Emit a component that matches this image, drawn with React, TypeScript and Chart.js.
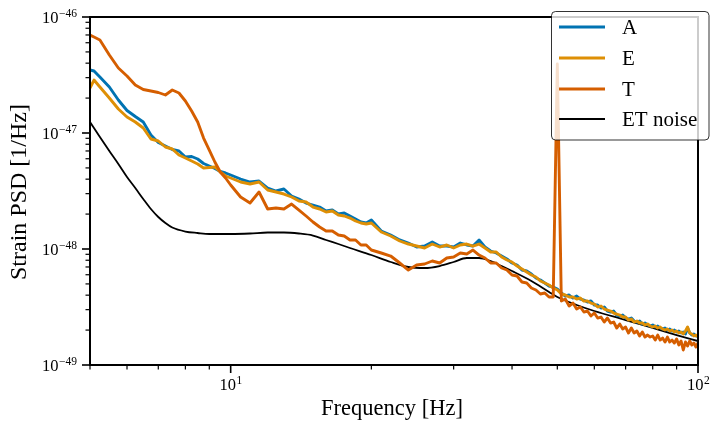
import React, { useEffect, useRef } from "react";
import { Chart, registerables } from "chart.js";

Chart.register(...registerables);

// PSD values are given in units of 1e-48 1/Hz
const UNIT = 1e-48;

const FREQ = [
  5, 5.1, 5.25, 5.5, 5.75, 6, 6.25, 6.5, 6.75, 7, 7.25, 7.5, 7.75, 8, 8.25, 8.5, 8.75, 9, 9.25, 9.5, 9.75, 10,
  10.5, 11, 11.5, 12, 12.5, 13, 13.5, 14, 14.5, 15, 15.5, 16, 16.5, 17, 17.5, 18, 18.5, 19, 19.5, 20,
  21, 22, 23, 24, 25, 26, 27, 28, 29, 30, 31, 32, 33, 34, 35, 36, 37, 38, 39, 40,
  41, 42, 43, 44, 45, 46, 47, 48, 49, 50,
  51, 52, 53, 54, 55, 56, 57, 58, 59, 60, 61, 62, 63, 64, 65, 66, 67, 68, 69, 70,
  71, 72, 73, 74, 75, 76, 77, 78, 79, 80, 81, 82, 83, 84, 85, 86, 87, 88, 89, 90,
  91, 92, 93, 94, 95, 96, 97, 98, 99, 100,
];

const PSD_A = [
  34.91, 34.22, 30.38, 24.91, 19.25, 15.62, 13.87, 12.44, 9.609, 8.28, 7.724, 7.205, 6.994, 6.209, 6.271, 5.967, 5.457, 5.193, 4.942, 4.657, 4.52, 4.344,
  4.011, 3.779, 3.855, 3.355, 3.161, 3.289, 2.862, 2.697, 2.491, 2.394, 2.301, 2.126, 2.168, 2.003, 2.043, 1.925, 1.813, 1.709, 1.675, 1.778,
  1.429, 1.32, 1.196, 1.126, 1.04, 1.061, 1.149, 1.061, 1.061, 1.04, 1.126, 1.083, 1.061, 1.196, 1.04, 0.9609, 0.9235, 0.8701, 0.8198, 0.7572,
  0.7277, 0.659, 0.646, 0.6087, 0.5622, 0.5403, 0.5091, 0.4797, 0.4703, 0.452,
  0.4175, 0.3932, 0.4011, 0.3779, 0.3932, 0.3705, 0.3632, 0.3491, 0.3561, 0.3289, 0.3289, 0.3099, 0.3161, 0.292, 0.2862, 0.292, 0.2697, 0.2644, 0.2697, 0.2541,
  0.2491, 0.2541, 0.2394, 0.2347, 0.2394, 0.2256, 0.2301, 0.2212, 0.2168, 0.2212, 0.2126, 0.2168, 0.2084, 0.2043, 0.2084, 0.2003, 0.2043, 0.1963, 0.2003, 0.1925,
  0.1963, 0.1887, 0.1925, 0.185, 0.2084, 0.1887, 0.1813, 0.185, 0.1778, 0.1813,
];

const PSD_E = [
  24.42, 28.62, 24.91, 20.03, 16.1, 13.74, 12.44, 11.04, 8.875, 8.53, 7.572, 7.277, 6.46, 6.087, 5.735, 5.403, 4.991, 5.04, 5.091, 4.611, 4.259, 4.093,
  3.779, 3.632, 3.779, 3.224, 3.099, 2.978, 2.806, 2.592, 2.541, 2.301, 2.212, 2.084, 2.126, 1.963, 1.925, 1.85, 1.743, 1.675, 1.642, 1.675,
  1.401, 1.294, 1.172, 1.104, 1.061, 1.02, 1.104, 1.04, 1.083, 1.02, 1.083, 1.104, 1.061, 1.104, 1.02, 0.942, 0.942, 0.853, 0.8037, 0.7724,
  0.7134, 0.6722, 0.6333, 0.5967, 0.5735, 0.5297, 0.5091, 0.4893, 0.4611, 0.4431,
  0.4093, 0.4011, 0.3855, 0.3855, 0.3705, 0.3779, 0.3561, 0.3561, 0.3422, 0.3355, 0.3161, 0.3224, 0.3038, 0.2978, 0.292, 0.2806, 0.2751, 0.2697, 0.2592, 0.2592,
  0.2442, 0.2491, 0.2347, 0.2394, 0.2301, 0.2301, 0.2212, 0.2256, 0.2168, 0.2126, 0.2168, 0.2084, 0.2126, 0.2043, 0.2003, 0.2043, 0.1963, 0.2003, 0.1925, 0.1963,
  0.1887, 0.1925, 0.185, 0.1963, 0.2126, 0.1887, 0.185, 0.1778, 0.1813, 0.1743,
];

const PSD_T = [
  69.94, 67.22, 63.33, 47.03, 36.32, 30.99, 25.92, 23.7, 23.01, 22.34, 21.26, 23.47, 22.12, 18.87, 15.47, 12.44, 9.053, 7.134, 5.622, 4.611, 4.093, 3.561,
  2.806, 2.491, 3.099, 2.212, 2.256, 2.212, 2.442, 2.168, 1.925, 1.709, 1.547, 1.429, 1.429, 1.32, 1.294, 1.196, 1.196, 1.083, 1.083, 0.9802,
  0.9235, 0.8701, 0.7572, 0.659, 0.7277, 0.7423, 0.7879, 0.7572, 0.8362, 0.853, 0.9235, 0.9053, 0.9802, 0.8875, 0.8362, 0.7572, 0.7572, 0.6857, 0.659, 0.5967,
  0.585, 0.5193, 0.5091, 0.4611, 0.4431, 0.4093, 0.4175, 0.3855, 0.3855, 39.32,
  0.3561, 0.3705, 0.3224, 0.3422, 0.3038, 0.3161, 0.2862, 0.292, 0.2644, 0.2806, 0.2541, 0.2592, 0.2347, 0.2541, 0.2301, 0.2347, 0.2084, 0.2256, 0.2043, 0.2126,
  0.1887, 0.2084, 0.1887, 0.1963, 0.1778, 0.1925, 0.1743, 0.1813, 0.1743, 0.1778, 0.1642, 0.1813, 0.1642, 0.1709, 0.1578, 0.1743, 0.1578, 0.1642, 0.1547, 0.1675,
  0.1487, 0.161, 0.1347, 0.1578, 0.1458, 0.161, 0.1487, 0.1547, 0.1429, 0.1547,
];

const NOISE_FREQ = [
  5, 5.25, 5.5, 5.75, 6, 6.25, 6.5, 6.75, 7, 7.25, 7.5, 8, 8.5, 9, 10, 11, 12, 13, 14, 15, 16, 17, 18,
  20, 22, 24, 26, 28, 30, 32, 34, 36, 38, 40, 44, 48, 50, 55, 60, 70, 80, 90, 100,
];

const PSD_NOISE = [
  12.44, 9.235, 6.994, 5.403, 4.175, 3.355, 2.697, 2.212, 1.887, 1.675, 1.532, 1.415, 1.374, 1.347, 1.347, 1.36, 1.387, 1.387, 1.36, 1.307, 1.196, 1.104, 1.02,
  0.8875, 0.7724, 0.6994, 0.6857, 0.7134, 0.7724, 0.8362, 0.8362, 0.7879, 0.7134, 0.646, 0.5297, 0.4259, 0.3855, 0.3289, 0.292, 0.2442, 0.2084, 0.1813, 0.161,
];

const SERIES_LABELS = ["A", "E", "T", "ET noise"];
const X_MIN = 5;
const X_MAX = 100;
const Y_MIN = 1e-49;
const Y_MAX = 1e-46;
const X_MAJOR = [10, 100];
const X_MAJOR_EXP = ["1", "2"];
const X_MINOR = [5, 6, 7, 8, 9, 20, 30, 40, 50, 60, 70, 80, 90];
const Y_DECADE_EXP = [-49, -48, -47, -46];
const Y_MINOR_MANT = [2, 3, 4, 5, 6, 7, 8, 9];

const COLORS = ["#0173b2", "#de8f05", "#d55e00", "#000000"];
const WIDTHS = [2.9, 2.9, 2.9, 1.8];
const FONT = '"Liberation Serif", "Times New Roman", serif';

function toPoints(xs: number[], ys: number[]) {
  return xs.map((x, i) => ({ x, y: ys[i] * UNIT }));
}

const axesPlugin = {
  id: "mplAxes",
  afterDatasetsDraw(chart: any) {
    const { ctx, chartArea: a, scales } = chart;
    const xs = scales.x;
    const ys = scales.y;
    ctx.save();
    ctx.strokeStyle = "#000";
    ctx.fillStyle = "#000";
    const seg = (x1: number, y1: number, x2: number, y2: number, w: number) => {
      ctx.lineWidth = w;
      ctx.beginPath();
      ctx.moveTo(x1, y1);
      ctx.lineTo(x2, y2);
      ctx.stroke();
    };
    // x ticks
    X_MINOR.forEach((v) => {
      const px = xs.getPixelForValue(v);
      seg(px, a.bottom, px, a.bottom + 4.5, 1.2);
    });
    X_MAJOR.forEach((v) => {
      const px = xs.getPixelForValue(v);
      seg(px, a.bottom, px, a.bottom + 8, 1.6);
    });
    // y ticks
    Y_DECADE_EXP.forEach((e) => {
      const py = ys.getPixelForValue(Math.pow(10, e));
      seg(a.left - 8, py, a.left, py, 1.6);
      if (e < -46) {
        Y_MINOR_MANT.forEach((m) => {
          const pm = ys.getPixelForValue(m * Math.pow(10, e));
          seg(a.left - 4.5, pm, a.left, pm, 1.2);
        });
      }
    });
    // spines
    ctx.lineWidth = 2;
    ctx.strokeRect(a.left, a.top, a.right - a.left, a.bottom - a.top);

    // y tick labels
    ctx.textBaseline = "alphabetic";
    ctx.textAlign = "left";
    Y_DECADE_EXP.forEach((e) => {
      const py = ys.getPixelForValue(Math.pow(10, e));
      const sup = "\u2212" + String(-e);
      ctx.font = "11.5px " + FONT;
      const sw = ctx.measureText(sup).width;
      ctx.font = "16.5px " + FONT;
      const bw = ctx.measureText("10").width;
      const right = a.left - 13;
      ctx.fillText("10", right - sw - bw - 0.5, py + 6);
      ctx.font = "11.5px " + FONT;
      ctx.fillText(sup, right - sw, py - 0.5);
    });
    // x tick labels
    X_MAJOR.forEach((v, i) => {
      const px = xs.getPixelForValue(v);
      const sup = X_MAJOR_EXP[i];
      ctx.font = "11.5px " + FONT;
      const sw = ctx.measureText(sup).width;
      ctx.font = "16.5px " + FONT;
      const bw = ctx.measureText("10").width;
      const left = px - (bw + sw) / 2;
      ctx.fillText("10", left, a.bottom + 25);
      ctx.font = "11.5px " + FONT;
      ctx.fillText(sup, left + bw + 0.5, a.bottom + 19);
    });
    // axis titles
    ctx.font = "22.5px " + FONT;
    ctx.textAlign = "center";
    ctx.fillText("Frequency [Hz]", 392, 415);
    ctx.save();
    ctx.translate(26, 192);
    ctx.rotate(-Math.PI / 2);
    ctx.font = "24px " + FONT;
    ctx.fillText("Strain PSD [1/Hz]", 0, 0);
    ctx.restore();
    ctx.restore();
  },
  afterDraw(chart: any) {
    const { ctx } = chart;
    ctx.save();
    const x0 = 551.5, y0 = 11.5, w = 157.5, h = 128.5;
    ctx.beginPath();
    ctx.roundRect(x0, y0, w, h, 4);
    ctx.fillStyle = "rgba(255,255,255,0.8)";
    ctx.fill();
    ctx.lineWidth = 1;
    ctx.strokeStyle = "rgba(0,0,0,0.8)";
    ctx.stroke();
    const rows = [27, 58, 89, 119];
    SERIES_LABELS.forEach((lab, i) => {
      ctx.strokeStyle = COLORS[i];
      ctx.lineWidth = WIDTHS[i];
      ctx.beginPath();
      ctx.moveTo(559, rows[i]);
      ctx.lineTo(605, rows[i]);
      ctx.stroke();
      ctx.fillStyle = "#000";
      ctx.font = "21px " + FONT;
      ctx.textAlign = "left";
      ctx.textBaseline = "middle";
      ctx.fillText(lab, 622, rows[i] + 1);
    });
    ctx.restore();
  },
};

export default function App() {
  const ref = useRef<HTMLCanvasElement>(null);
  useEffect(() => {
    document.body.style.margin = "0";
    const series = [
      toPoints(FREQ, PSD_A),
      toPoints(FREQ, PSD_E),
      toPoints(FREQ, PSD_T),
      toPoints(NOISE_FREQ, PSD_NOISE),
    ];
    const orders = [2, 1, 0, 3];
    const chart = new Chart(ref.current as HTMLCanvasElement, {
      type: "line",
      data: {
        datasets: series.map((d, i) => ({
          label: SERIES_LABELS[i],
          data: d,
          borderColor: COLORS[i],
          backgroundColor: COLORS[i],
          borderWidth: WIDTHS[i],
          pointRadius: 0,
          fill: false,
          tension: 0,
          cubicInterpolationMode: i === 3 ? "monotone" : "default",
          borderJoinStyle: "round",
          order: orders[i],
        })),
      },
      options: {
        animation: false,
        responsive: false,
        devicePixelRatio: 1,
        layout: { padding: { top: 17, right: 22, left: 0, bottom: 0 } },
        plugins: { legend: { display: false }, tooltip: { enabled: false } },
        scales: {
          x: {
            type: "logarithmic",
            min: X_MIN,
            max: X_MAX,
            grid: { display: false },
            border: { display: false },
            ticks: { display: false },
            afterFit(s: any) {
              s.height = 67;
            },
          },
          y: {
            type: "logarithmic",
            min: Y_MIN,
            max: Y_MAX,
            grid: { display: false },
            border: { display: false },
            ticks: { display: false },
            afterFit(s: any) {
              s.width = 90;
            },
          },
        },
      } as any,
      plugins: [axesPlugin],
    } as any);
    return () => chart.destroy();
  }, []);
  return <canvas ref={ref} width={720} height={432} style={{ display: "block" }} />;
}
